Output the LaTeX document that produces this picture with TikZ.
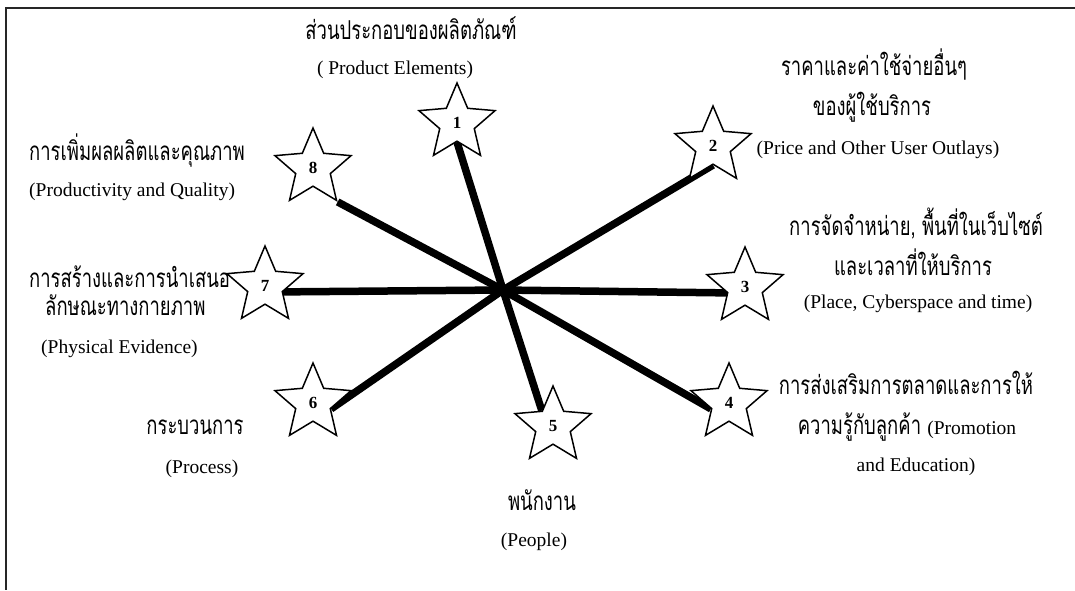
\documentclass[tikz,border=0pt]{standalone}
\usepackage{fontspec}
\setmainfont{Liberation Serif}
\newfontfamily\thaifont[Script=Thai,FakeStretch=0.71]{Loma}
\usetikzlibrary{shapes.geometric,backgrounds}
\tikzset{
  starnode/.style={star, star points=5, star point ratio=2.2, draw, line width=1.5pt,
    fill=white, minimum size=80pt, inner sep=0pt,
    font=\bfseries\fontsize{17}{17}\selectfont},
  spoke/.style={line width=7.5pt, black},
  frameline/.style={line width=2pt, black!85},
  th/.style={font=\thaifont\fontsize{26}{26}\selectfont, inner sep=0pt, anchor=base},
  en/.style={font=\fontsize{19.5}{19.5}\selectfont, inner sep=0pt, anchor=base}
}
\newcommand{\en}[1]{{\rmfamily\fontsize{19.5}{19.5}\selectfont #1}}
\begin{document}
\begin{tikzpicture}[x=1pt,y=-1pt]
\useasboundingbox (0,0) rectangle (1075,590);
% frame (top and left edges visible)
\coordinate (fr1) at (1075,8);
\coordinate (fr2) at (6,8);
\coordinate (fr3) at (6,590);
\draw[frameline] (fr1) -- (fr2) -- (fr3);

% stars
\node[starnode] (s1) at (457,123) {1};
\node[starnode] (s2) at (713,146) {2};
\node[starnode] (s3) at (745,287) {3};
\node[starnode] (s4) at (729,403) {4};
\node[starnode] (s5) at (553,426) {5};
\node[starnode] (s6) at (313,403) {6};
\node[starnode] (s7) at (265,286) {7};
\node[starnode] (s8) at (313,168) {8};

\coordinate (c) at (503,290);
\begin{scope}[on background layer]
\draw[spoke] (c) -- (s1.inner point 3);
\draw[spoke] (c) -- (s2.inner point 3);
\draw[spoke] (c) -- (s3.inner point 2);
\draw[spoke] (c) -- (s4.inner point 2);
\draw[spoke] (c) -- (s5.inner point 1);
\draw[spoke] (c) -- (s6.inner point 4);
\draw[spoke] (c) -- (s7.inner point 4);
\draw[spoke] (c) -- (s8.outer point 4);
\end{scope}

% labels
\node[th] (t1a) at (411,39) {ส่วนประกอบของผลิตภัณฑ์};
\node[en] (t1b) at (395,74) {( Product Elements)};

\node[th] (t2a) at (874,75) {ราคาและค่าใช้จ่ายอื่นๆ};
\node[th] (t2b) at (872,115) {ของผู้ใช้บริการ};
\node[en] (t2c) at (878,154) {(Price and Other User Outlays)};

\node[th] (t3a) at (916,235) {การจัดจำหน่าย, พื้นที่ในเว็บไซต์};
\node[th] (t3b) at (913,275) {และเวลาที่ให้บริการ};
\node[en] (t3c) at (918,308) {(Place, Cyberspace and time)};

\node[th] (t4a) at (906,394) {การส่งเสริมการตลาดและการให้};
\node[th] (t4b) at (907,434) {ความรู้กับลูกค้า \en{(Promotion}};
\node[en] (t4c) at (916,471) {and Education)};

\node[th] (t5a) at (542,510) {พนักงาน};
\node[en] (t5b) at (534,546) {(People)};

\node[th] (t6a) at (195,434) {กระบวนการ};
\node[en] (t6b) at (202,473) {(Process)};

\node[th, anchor=base west] (t7a) at (29,287) {การสร้างและการนำเสนอ};
\node[th, anchor=base west] (t7b) at (45,315) {ลักษณะทางกายภาพ};
\node[en, anchor=base west] (t7c) at (41,353) {(Physical Evidence)};

\node[th, anchor=base west] (t8a) at (29,160) {การเพิ่มผลผลิตและคุณภาพ};
\node[en, anchor=base west] (t8b) at (29,196) {(Productivity and Quality)};
\end{tikzpicture}
\end{document}
